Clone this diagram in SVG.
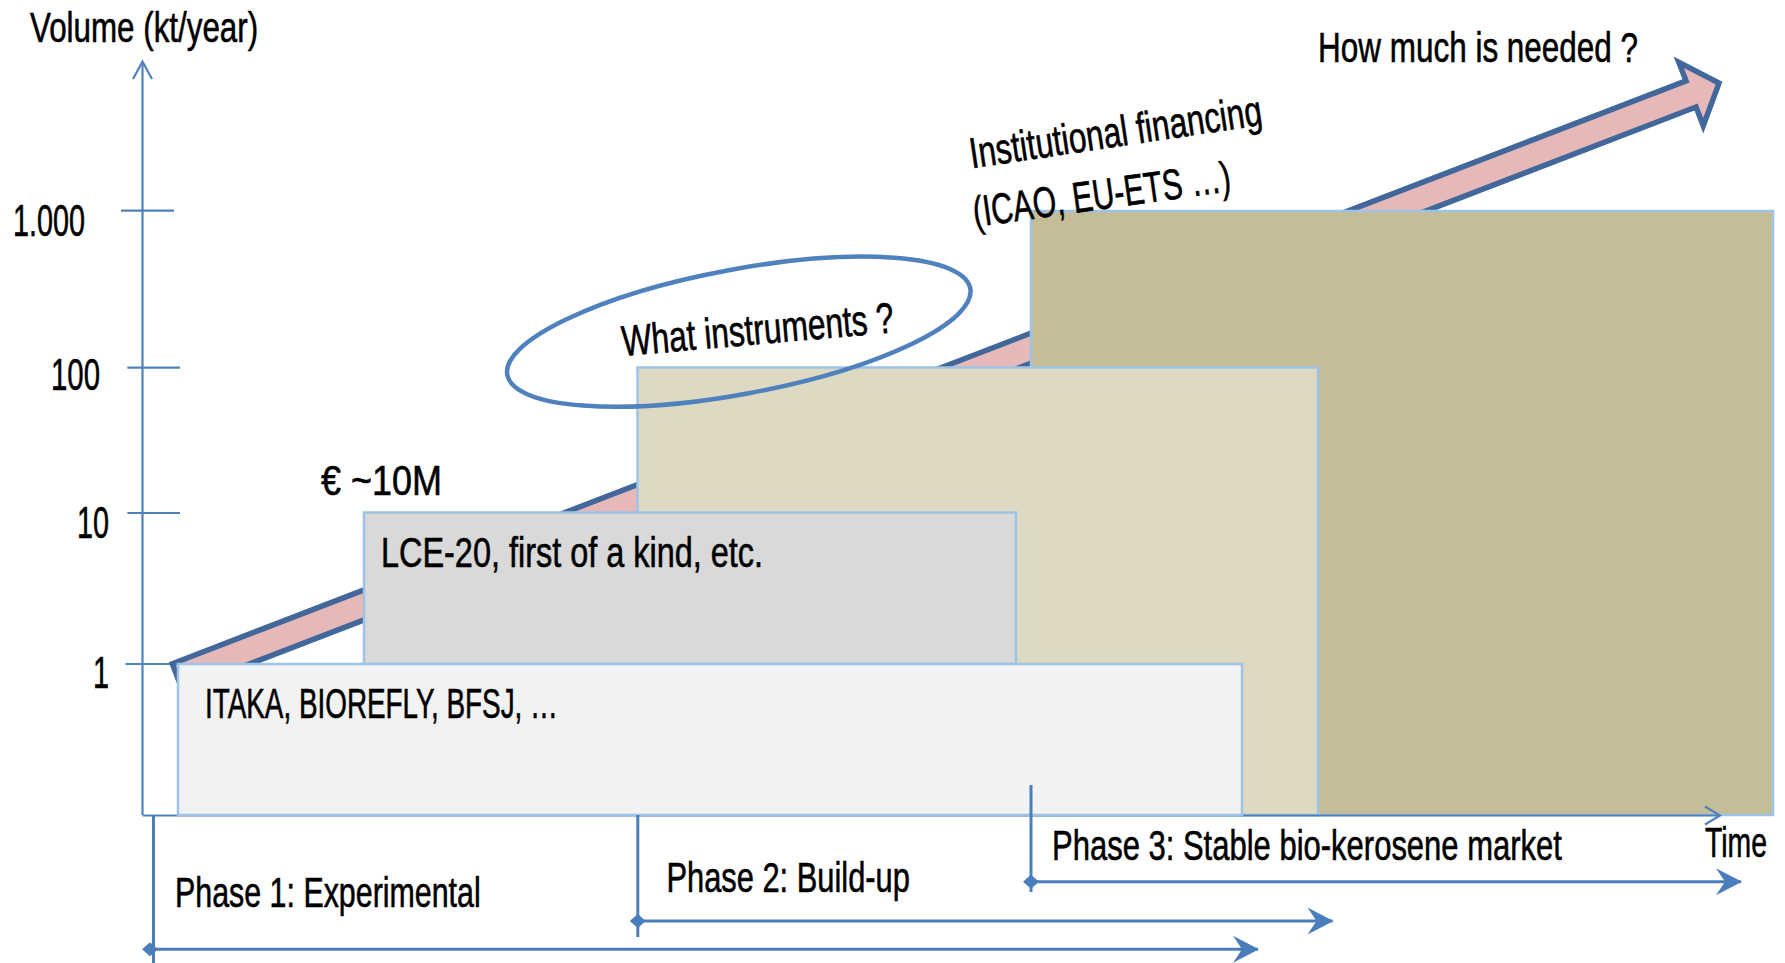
<svg xmlns="http://www.w3.org/2000/svg" width="1785" height="963" viewBox="0 0 1785 963">
<style>
  .t { font-family: "Liberation Sans", "DejaVu Sans", sans-serif; font-size: 43px; fill: #000; stroke: #000; stroke-width: 0.6; }
  .n { font-family: "Liberation Sans", "DejaVu Sans", sans-serif; font-size: 45px; fill: #000; stroke: #000; stroke-width: 0.6; }
  .box { stroke: #9DC3E6; stroke-width: 2.5; }
  .axis { stroke: #4F81BD; stroke-width: 2.2; fill: none; }
  .phase { stroke: #4A7EBB; stroke-width: 3; fill: none; }
</style>
<defs>
  <marker id="stealth" markerUnits="userSpaceOnUse" viewBox="0 0 26 27" refX="25" refY="13.5" markerWidth="26" markerHeight="27" orient="auto">
    <path d="M0,0 L26,13.5 L0,27 L9,13.5 Z" fill="#4A7EBB"/>
  </marker>
  <marker id="diamond" markerUnits="userSpaceOnUse" viewBox="0 0 16 16" refX="8" refY="8" markerWidth="16" markerHeight="16" orient="auto">
    <path d="M0,8 L8,1 L16,8 L8,15 Z" fill="#4A7EBB"/>
  </marker>
</defs>
<rect width="1785" height="963" fill="#FFFFFF"/>

<g id="y-axis">
  <line class="axis" x1="142.5" y1="815" x2="142.5" y2="62"/>
  <polyline class="axis" points="133,79 142.5,61.5 152,79"/>
  <line class="axis" x1="121" y1="210.7" x2="174" y2="210.7"/>
  <line class="axis" x1="127.3" y1="367.7" x2="180" y2="367.7"/>
  <line class="axis" x1="127.4" y1="513" x2="180" y2="513"/>
  <line class="axis" x1="125.5" y1="664" x2="172" y2="664"/>
  <text class="t" transform="translate(30,42) scale(0.729,1)">Volume (kt/year)</text>
  <text class="n" transform="translate(13,236) scale(0.639,1)">1.000</text>
  <text class="n" transform="translate(51,390) scale(0.653,1)">100</text>
  <text class="n" transform="translate(77,538) scale(0.64,1)">10</text>
  <text class="n" transform="translate(101,688) scale(0.64,1)" text-anchor="middle">1</text>
</g>

<g id="growth-arrow" transform="translate(175.5,677.5) rotate(-21.06)">
  <polygon points="2,-14 1624,-14 1624,-34 1654,0 1624,34 1624,14 2,14" fill="#E6B9B8" stroke="#41679B" stroke-width="5.5" stroke-linejoin="miter"/>
</g>

<g id="phase3-box">
  <rect class="box" x="1031" y="211" width="742" height="604" fill="#C4BD97"/>
</g>
<g id="phase2-box">
  <rect class="box" x="637.5" y="367.5" width="680.5" height="447.5" fill="#DDD9C3"/>
</g>

<g id="x-axis">
  <line class="axis" x1="142.5" y1="815.5" x2="1720" y2="815.5"/>
  <polyline class="axis" points="1705,806.5 1720,815.5 1705,824.5"/>
  <text class="t" transform="translate(1705,857) scale(0.66,1)">Time</text>
</g>

<g id="lce-box">
  <rect class="box" x="364" y="512.5" width="652" height="151.5" fill="#D9D9D9"/>
  <text class="t" transform="translate(381,567) scale(0.754,1)">LCE-20, first of a kind, etc.</text>
</g>
<g id="itaka-box">
  <rect class="box" x="178" y="664" width="1064" height="151" fill="#F2F2F2"/>
  <text class="t" transform="translate(205,718) scale(0.648,1)">ITAKA, BIOREFLY, BFSJ, …</text>
</g>

<g id="instruments">
  <ellipse cx="738.8" cy="331.7" rx="235.5" ry="62.3" transform="rotate(-10.58 738.8 331.7)" fill="none" stroke="#4F81BD" stroke-width="4.5"/>
  <text class="t" transform="translate(623,356) rotate(-5) scale(0.737,1)">What instruments ?</text>
</g>

<g id="funding-label">
  <text class="t" transform="translate(321,495) scale(0.837,1)">€ ~10M</text>
</g>

<g id="institutional">
  <text class="t" transform="translate(971.7,168.3) rotate(-8.5) scale(0.735,1)">Institutional financing</text>
  <text class="t" transform="translate(975,227) rotate(-8) scale(0.702,1)">(ICAO, EU-ETS …)</text>
</g>

<g id="question">
  <text class="t" transform="translate(1318,62) scale(0.732,1)">How much is needed ?</text>
</g>

<g id="connectors">
  <line class="phase" x1="153.5" y1="815" x2="153.5" y2="963"/>
  <line class="phase" x1="637.8" y1="815" x2="637.8" y2="937"/>
  <line class="phase" x1="1031" y1="785" x2="1031" y2="892"/>
  <line class="phase" x1="150" y1="949.3" x2="1258" y2="949.3" marker-start="url(#diamond)" marker-end="url(#stealth)"/>
  <line class="phase" x1="637.8" y1="921" x2="1332.5" y2="921" marker-start="url(#diamond)" marker-end="url(#stealth)"/>
  <line class="phase" x1="1031" y1="881.7" x2="1741" y2="881.7" marker-start="url(#diamond)" marker-end="url(#stealth)"/>
</g>

<g id="phase-labels">
  <text class="t" transform="translate(175,907) scale(0.707,1)">Phase 1: Experimental</text>
  <text class="t" transform="translate(666.5,892) scale(0.717,1)">Phase 2: Build-up</text>
  <text class="t" transform="translate(1052,860) scale(0.721,1)">Phase 3: Stable bio-kerosene market</text>
</g>
</svg>
